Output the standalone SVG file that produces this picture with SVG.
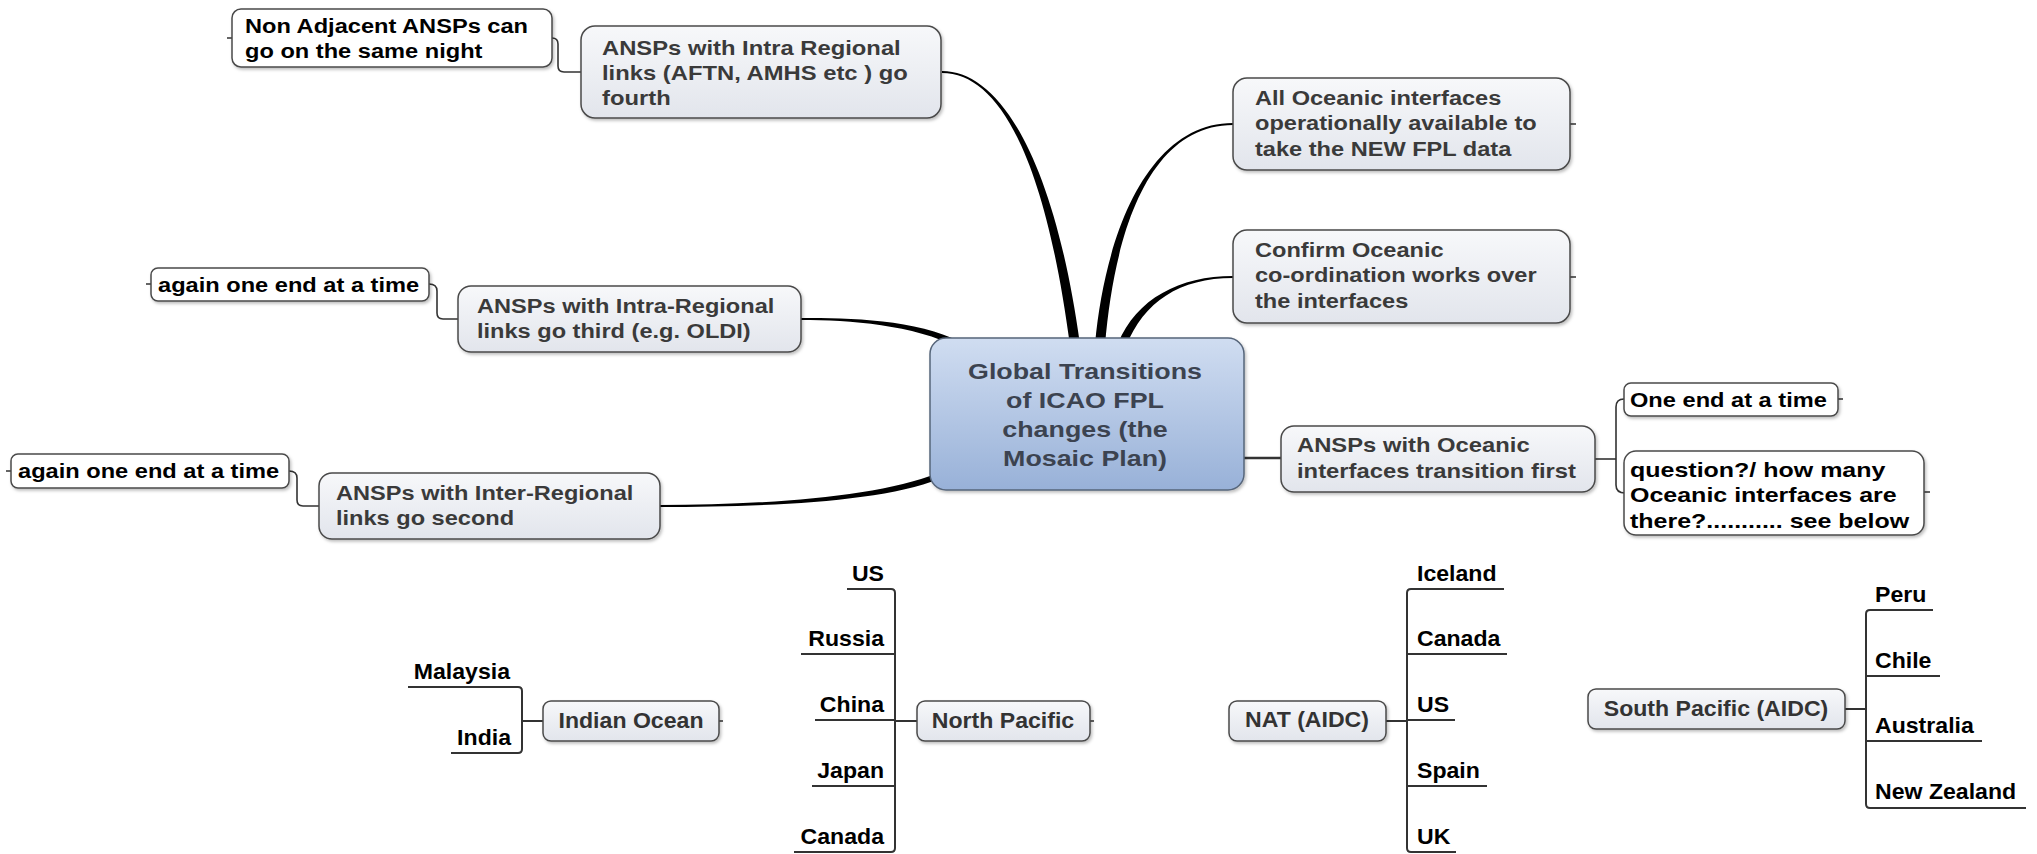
<svg xmlns="http://www.w3.org/2000/svg" width="2037" height="854" viewBox="0 0 2037 854">
<style>
  text { font-family: "Liberation Sans", Arial, sans-serif; font-weight: bold; }
  .gbox { fill: url(#gGray); stroke: #4a4a4a; stroke-width: 1.5; filter: url(#sh); }
  .wbox { fill: #ffffff; stroke: #4a4a4a; stroke-width: 1.5; filter: url(#sh); }
  .cbox { fill: url(#gBlue); stroke: #56657a; stroke-width: 1.5; filter: url(#sh); }
  .tg { font-size: 19.5px; fill: #3a3a3a; }
  .tw { font-size: 21px; fill: #000000; }
  .tc { font-size: 22px; fill: #3c4350; text-anchor: middle; }
  .tb { font-size: 22px; fill: #333333; text-anchor: middle; }
  .tl { font-size: 22px; fill: #000000; }
  .tr { font-size: 22px; fill: #000000; text-anchor: end; }
  .thin { fill: none; stroke: #333333; stroke-width: 1.6; }
  .ul { fill: none; stroke: #333333; stroke-width: 2; }
  .thick { fill: #000000; stroke: none; }
</style>
<defs>
  <linearGradient id="gGray" x1="0" y1="0" x2="0" y2="1">
    <stop offset="0" stop-color="#f7f8fa"/>
    <stop offset="1" stop-color="#e2e5ec"/>
  </linearGradient>
  <linearGradient id="gBlue" x1="0" y1="0" x2="0" y2="1">
    <stop offset="0" stop-color="#d0ddf1"/>
    <stop offset="1" stop-color="#98b1d8"/>
  </linearGradient>
  <filter id="sh" x="-10%" y="-10%" width="120%" height="130%">
    <feDropShadow dx="1.5" dy="2" stdDeviation="1.5" flood-color="#000" flood-opacity="0.25"/>
  </filter>
</defs>
<rect width="2037" height="854" fill="#ffffff"/>

<g id="connectors">
  <!-- thick tapered branches from the central topic -->
  <path class="thick" d="M1080,344.4 C1054.5,159.4 1000,71 942,71 L942,73 C1000,73 1045.5,160.6 1070,345.6 Z"/>
  <path class="thick" d="M1105,345.4 C1114.5,230.4 1150,125 1233,125 L1233,123 C1150,123 1105.5,229.6 1095,344.6 Z"/>
  <path class="thick" d="M1126,346.5 C1143.7,301.5 1180,278 1233,278 L1233,276 C1180,276 1136.3,298.5 1118,343.5 Z"/>
  <path class="thick" d="M961.4,342.3 C916.4,319.3 850,318 801,318 L801,320 C850,320 913.6,324.7 958.6,347.7 Z"/>
  <path class="thick" d="M936.9,473.2 C878.9,497.2 760,505 660,505 L660,507 C760,507 881.1,502.8 939.1,478.8 Z"/>
  <path class="thin" style="stroke-width:2.5" d="M1240,458 L1281,458"/>
  <!-- elbow connectors -->
  <path class="thin" d="M552,38 Q558,38 558,44 L558,66 Q558,72 564,72 L581,72"/>
  <path class="thin" d="M429,284 Q437,284 437,291 L437,313 Q437,319 443,319 L458,319"/>
  <path class="thin" d="M289,471 Q297,471 297,478 L297,500 Q297,506 303,506 L319,506"/>
  <path class="thin" d="M1595,459 L1616,459"/>
  <path class="thin" d="M1624,399 Q1616,399 1616,407 L1616,485 Q1616,493 1625,493"/>
  <!-- small stubs -->
  <path class="thin" d="M227,38 L232,38 M146,284 L151,284 M6,471 L11,471 M1570,124 L1576,124 M1570,277 L1576,277 M1837,399 L1843,399 M1924,492 L1930,492 M719,721 L723,721 M1090,721 L1094,721"/>
  <!-- lower sub-maps -->
  <path class="ul" d="M518,687 Q522,687 522,691 L522,749 Q522,753 518,753 M522,721 L543,721"/>
  <path class="ul" d="M891,589 Q895,589 895,593 L895,848 Q895,852 891,852 M895,721 L917,721"/>
  <path class="ul" d="M1411,589 Q1407,589 1407,593 L1407,848 Q1407,852 1411,852 M1386,721 L1407,721"/>
  <path class="ul" d="M1870,610 Q1866,610 1866,614 L1866,804 Q1866,808 1870,808 M1845,709 L1866,709"/>
</g>

<g id="node-non-adjacent">
  <rect class="wbox" x="232" y="9" width="320" height="58" rx="9"/>
  <text class="tw" transform="translate(245 33) scale(1.125 1)"><tspan x="0" y="0">Non Adjacent ANSPs can</tspan><tspan x="0" y="25.5">go on the same night</tspan></text>
</g>

<g id="node-intra-fourth">
  <rect class="gbox" x="581" y="26" width="360" height="92" rx="14"/>
  <text class="tg" transform="translate(602 55) scale(1.22 1)"><tspan x="0" y="0">ANSPs with Intra Regional</tspan><tspan x="0" y="25.5">links (AFTN, AMHS etc ) go</tspan><tspan x="0" y="50.5">fourth</tspan></text>
</g>

<g id="node-again-1">
  <rect class="wbox" x="151" y="268" width="278" height="33" rx="7"/>
  <text class="tw" transform="translate(158 292) scale(1.125 1)">again one end at a time</text>
</g>

<g id="node-intra-third">
  <rect class="gbox" x="458" y="286" width="343" height="66" rx="13"/>
  <text class="tg" transform="translate(477 313) scale(1.21 1)"><tspan x="0" y="0">ANSPs with Intra-Regional</tspan><tspan x="0" y="25.5">links go third (e.g. OLDI)</tspan></text>
</g>

<g id="node-again-2">
  <rect class="wbox" x="11" y="454" width="278" height="34" rx="7"/>
  <text class="tw" transform="translate(18 478) scale(1.125 1)">again one end at a time</text>
</g>

<g id="node-inter-second">
  <rect class="gbox" x="319" y="473" width="341" height="66" rx="13"/>
  <text class="tg" transform="translate(336 500) scale(1.21 1)"><tspan x="0" y="0">ANSPs with Inter-Regional</tspan><tspan x="0" y="25.5">links go second</tspan></text>
</g>

<g id="node-center">
  <rect class="cbox" x="930" y="338" width="314" height="152" rx="16"/>
  <text class="tc" transform="translate(1085 379) scale(1.22 1)"><tspan x="0" y="0">Global Transitions</tspan><tspan x="0" y="29">of ICAO FPL</tspan><tspan x="0" y="58">changes (the</tspan><tspan x="0" y="87">Mosaic Plan)</tspan></text>
</g>

<g id="node-all-oceanic">
  <rect class="gbox" x="1233" y="78" width="337" height="92" rx="14"/>
  <text class="tg" transform="translate(1255 105) scale(1.21 1)"><tspan x="0" y="0">All Oceanic interfaces</tspan><tspan x="0" y="25.5">operationally available to</tspan><tspan x="0" y="51">take the NEW FPL data</tspan></text>
</g>

<g id="node-confirm">
  <rect class="gbox" x="1233" y="230" width="337" height="93" rx="14"/>
  <text class="tg" transform="translate(1255 257) scale(1.21 1)"><tspan x="0" y="0">Confirm Oceanic</tspan><tspan x="0" y="25.5">co-ordination works over</tspan><tspan x="0" y="51">the interfaces</tspan></text>
</g>

<g id="node-oceanic-first">
  <rect class="gbox" x="1281" y="426" width="314" height="66" rx="13"/>
  <text class="tg" transform="translate(1297 452) scale(1.22 1)"><tspan x="0" y="0">ANSPs with Oceanic</tspan><tspan x="0" y="26">interfaces transition first</tspan></text>
</g>

<g id="node-one-end">
  <rect class="wbox" x="1624" y="383" width="214" height="33" rx="7"/>
  <text class="tw" transform="translate(1630 407) scale(1.125 1)">One end at a time</text>
</g>

<g id="node-question">
  <rect class="wbox" x="1624" y="451" width="300" height="84" rx="12"/>
  <text class="tw" transform="translate(1630 477) scale(1.19 1)"><tspan x="0" y="0">question?/ how many</tspan><tspan x="0" y="25.5">Oceanic interfaces are</tspan><tspan x="0" y="51">there?........... see below</tspan></text>
</g>

<g id="node-indian-ocean">
  <rect class="gbox" x="543" y="701" width="176" height="40" rx="8"/>
  <text class="tb" transform="translate(631 728) scale(1.05 1)">Indian Ocean</text>
</g>
<g id="node-malaysia">
  <path class="ul" d="M408,687 L518,687"/>
  <text class="tr" transform="translate(510 679) scale(1.05 1)">Malaysia</text>
</g>
<g id="node-india">
  <path class="ul" d="M451,753 L518,753"/>
  <text class="tr" transform="translate(511 745) scale(1.05 1)">India</text>
</g>

<g id="node-north-pacific">
  <rect class="gbox" x="917" y="701" width="173" height="40" rx="8"/>
  <text class="tb" transform="translate(1003 728) scale(1.05 1)">North Pacific</text>
</g>
<g id="node-np-us">
  <path class="ul" d="M847,589 L891,589"/>
  <text class="tr" transform="translate(884 581) scale(1.05 1)">US</text>
</g>
<g id="node-np-russia">
  <path class="ul" d="M801,654 L895,654"/>
  <text class="tr" transform="translate(884 646) scale(1.05 1)">Russia</text>
</g>
<g id="node-np-china">
  <path class="ul" d="M815,720 L895,720"/>
  <text class="tr" transform="translate(884 712) scale(1.05 1)">China</text>
</g>
<g id="node-np-japan">
  <path class="ul" d="M812,786 L895,786"/>
  <text class="tr" transform="translate(884 778) scale(1.05 1)">Japan</text>
</g>
<g id="node-np-canada">
  <path class="ul" d="M794,852 L891,852"/>
  <text class="tr" transform="translate(884 844) scale(1.05 1)">Canada</text>
</g>

<g id="node-nat">
  <rect class="gbox" x="1229" y="701" width="157" height="40" rx="8"/>
  <text class="tb" transform="translate(1307 727) scale(1.05 1)">NAT (AIDC)</text>
</g>
<g id="node-nat-iceland">
  <path class="ul" d="M1411,589 L1504,589"/>
  <text class="tl" transform="translate(1417 581) scale(1.05 1)">Iceland</text>
</g>
<g id="node-nat-canada">
  <path class="ul" d="M1407,654 L1507,654"/>
  <text class="tl" transform="translate(1417 646) scale(1.05 1)">Canada</text>
</g>
<g id="node-nat-us">
  <path class="ul" d="M1407,720 L1455,720"/>
  <text class="tl" transform="translate(1417 712) scale(1.05 1)">US</text>
</g>
<g id="node-nat-spain">
  <path class="ul" d="M1407,786 L1487,786"/>
  <text class="tl" transform="translate(1417 778) scale(1.05 1)">Spain</text>
</g>
<g id="node-nat-uk">
  <path class="ul" d="M1411,852 L1456,852"/>
  <text class="tl" transform="translate(1417 844) scale(1.05 1)">UK</text>
</g>

<g id="node-south-pacific">
  <rect class="gbox" x="1588" y="689" width="257" height="40" rx="8"/>
  <text class="tb" transform="translate(1716 716) scale(1.05 1)">South Pacific (AIDC)</text>
</g>
<g id="node-sp-peru">
  <path class="ul" d="M1870,610 L1933,610"/>
  <text class="tl" transform="translate(1875 602) scale(1.05 1)">Peru</text>
</g>
<g id="node-sp-chile">
  <path class="ul" d="M1866,676 L1940,676"/>
  <text class="tl" transform="translate(1875 668) scale(1.05 1)">Chile</text>
</g>
<g id="node-sp-australia">
  <path class="ul" d="M1866,741 L1982,741"/>
  <text class="tl" transform="translate(1875 733) scale(1.05 1)">Australia</text>
</g>
<g id="node-sp-newzealand">
  <path class="ul" d="M1870,808 L2026,808"/>
  <text class="tl" transform="translate(1875 799) scale(1.05 1)">New Zealand</text>
</g>
</svg>
